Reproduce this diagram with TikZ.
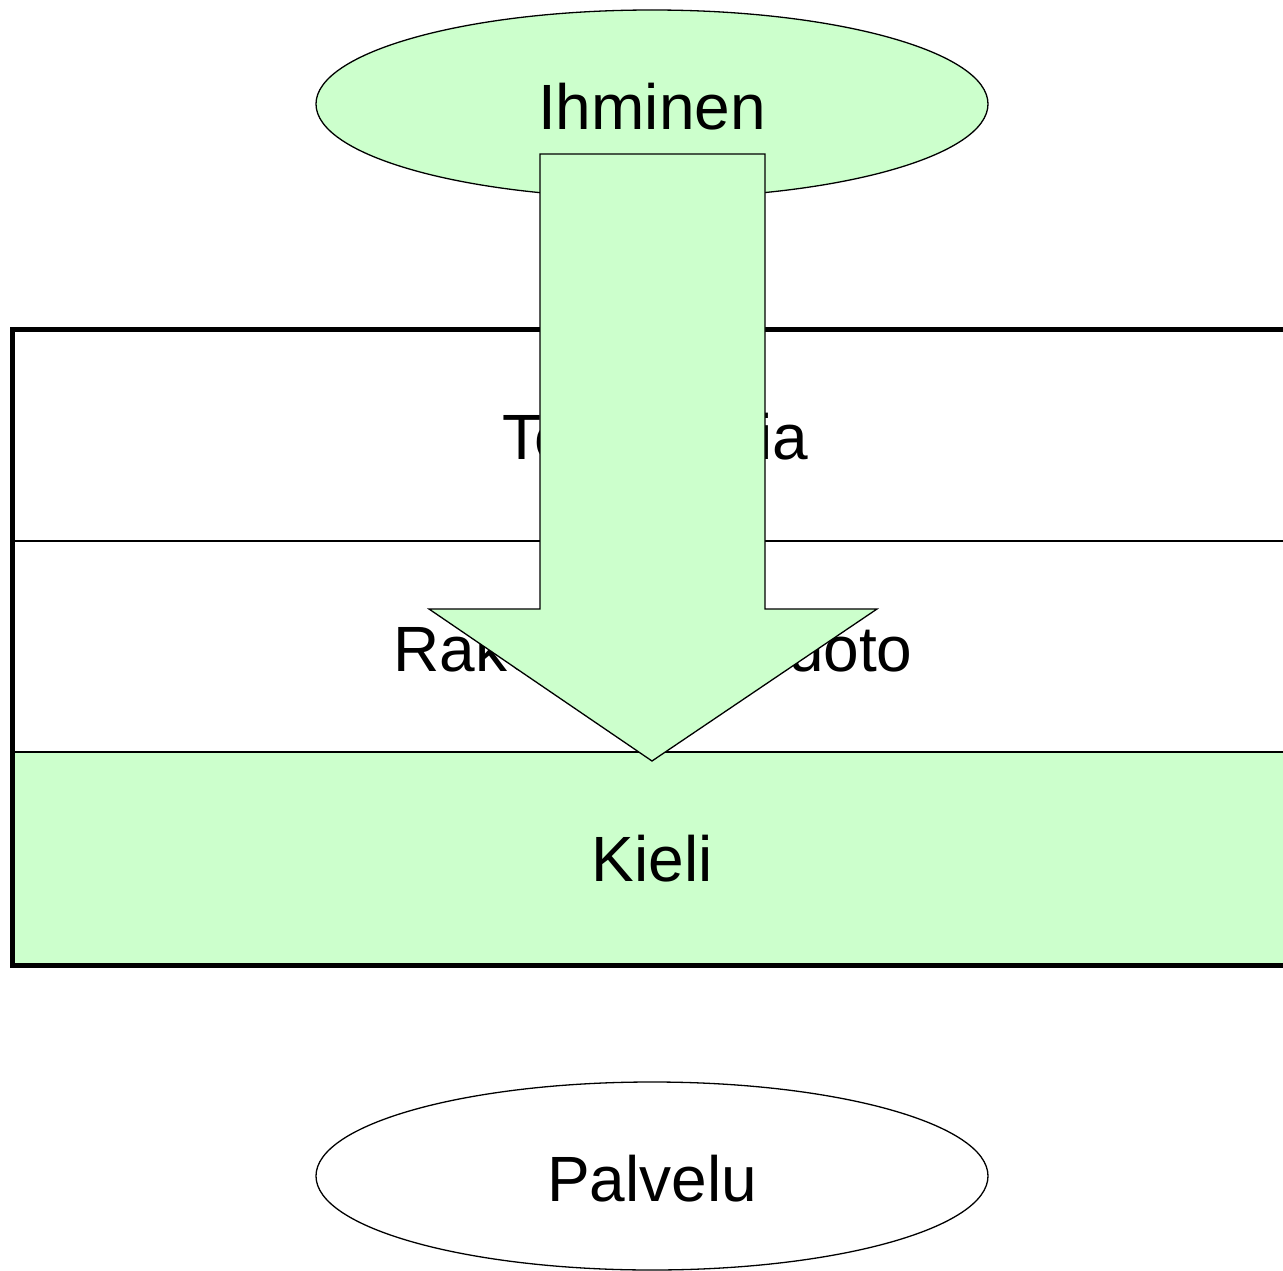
\documentclass[tikz,border=0pt]{standalone}
\usepackage{fontspec}
\setmainfont{Liberation Sans}
\usetikzlibrary{shapes.geometric}
\definecolor{lgreen}{HTML}{CCFFCC}
\tikzset{
  oval/.style={draw=black, line width=1.3pt, ellipse, minimum width=672pt, minimum height=188pt, inner sep=0pt},
  lbl/.style={anchor=base, inner sep=0pt, font=\fontsize{64}{76}\selectfont},
  divider/.style={draw=black, line width=2pt},
  frame/.style={draw=black, line width=5pt},
  bigarrow/.style={draw=black, line width=1.3pt, fill=lgreen, line join=miter}
}
\begin{document}
\begin{tikzpicture}[x=1pt,y=-1pt]
\useasboundingbox (0,0) rectangle (1283,1271);
% ellipses
\node[oval, fill=lgreen] (ihminen) at (652,104) {};
\node[lbl] (ihmtext) at (652,130) {Ihminen};
\node[oval, fill=white] (palvelu) at (652,1176) {};
\node[lbl] (paltext) at (652,1201) {Palvelu};
% layered box
\coordinate (boxtl) at (12,329);
\coordinate (boxbr) at (1300,965);
\fill[lgreen] (12,752) rectangle (1300,965);
\draw[divider] (12,541) -- (1300,541);
\draw[divider] (12,752) -- (1300,752);
\draw[frame] (boxtl) rectangle (boxbr);
\node[lbl] (tekno) at (655,459) {Teknologia};
\node[lbl] (rakenne) at (653,671) {Rakenne ja muoto};
\node[lbl] (kieli) at (652,881) {Kieli};
% big arrow
\coordinate (a1) at (540,154);
\coordinate (a2) at (765,154);
\coordinate (a3) at (765,609);
\coordinate (a4) at (877,609);
\coordinate (tip) at (652,761);
\coordinate (a6) at (429,609);
\coordinate (a7) at (540,609);
\path[bigarrow] (a1) -- (a2) -- (a3) -- (a4) -- (tip) -- (a6) -- (a7) -- cycle;
\end{tikzpicture}
\end{document}
